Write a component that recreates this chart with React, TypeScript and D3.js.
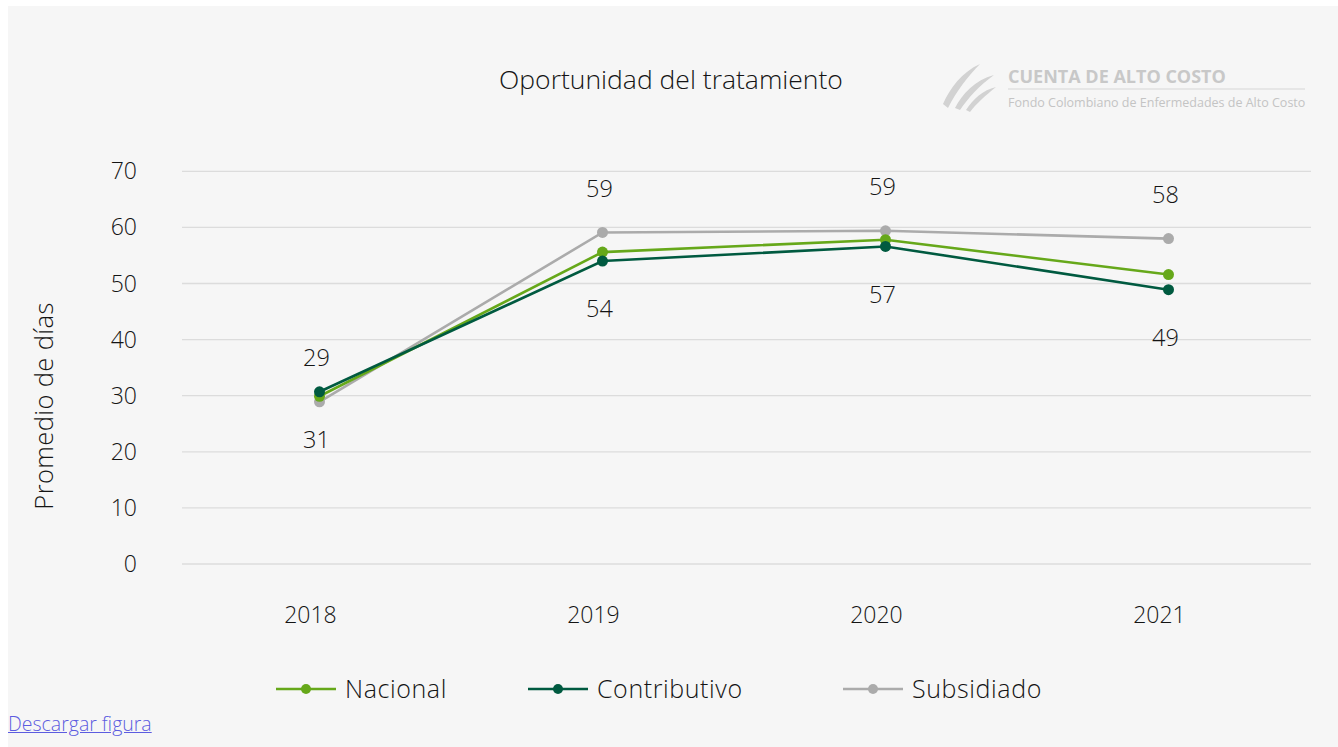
import React from "react";
import * as d3 from "d3";

const years = ["2018", "2019", "2020", "2021"];
const nacional = [29.9, 55.6, 57.8, 51.6];
const contributivo = [30.7, 54.0, 56.6, 48.9];
const subsidiado = [28.9, 59.1, 59.4, 58.0];
const yTicks = [0, 10, 20, 30, 40, 50, 60, 70];

const seriesList = [
  { name: "Nacional", values: nacional, color: "#66a81a", label: null as null | "above" | "below" },
  { name: "Contributivo", values: contributivo, color: "#005a40", label: "below" as const },
  { name: "Subsidiado", values: subsidiado, color: "#ababab", label: "above" as const },
];
const drawOrder = [2, 0, 1];

const W = 1330;
const H = 741;
const FONT = "'Open Sans', Lato, sans-serif";
const FW = 300;
const INK = "#141414";

export default function App() {
  const ox = 8, oy = 6;
  const x = d3.scaleBand<string>().domain(years).range([178 - ox, 1310 - ox]);
  const y = d3.scaleLinear().domain([0, 70]).range([564 - oy, 171.3 - oy]);
  const cx = (d: string) => (x(d) as number) + x.bandwidth() / 2;
  const line = d3
    .line<number>()
    .x((_, i) => cx(years[i]))
    .y((v) => y(v));

  const legendItems = [
    { s: seriesList[0], lx: 276 - ox },
    { s: seriesList[1], lx: 528 - ox },
    { s: seriesList[2], lx: 843 - ox },
  ];

  return (
    <div
      style={{
        position: "absolute",
        left: ox,
        top: oy,
        width: W,
        height: H,
        background: "#f6f6f6",
      }}
    >
      <svg width={W} height={H} style={{ display: "block", fontFamily: FONT, fontWeight: FW }}>
        <text x={671 - ox} y={89 - oy} textAnchor="middle" fontSize={26.5} fill={INK}>
          Oportunidad del tratamiento
        </text>

        <g fill="#d2d2d2">
          <path d={`M${943 - ox},${104 - oy} C${950 - ox},${88 - oy} ${962 - ox},${72 - oy} ${980 - ox},${64 - oy} C${968 - ox},${76 - oy} ${956 - ox},${92 - oy} ${948 - ox},${108 - oy} Z`} />
          <path d={`M${955 - ox},${108 - oy} C${962 - ox},${94 - oy} ${975 - ox},${80 - oy} ${994 - ox},${75 - oy} C${980 - ox},${85 - oy} ${968 - ox},${98 - oy} ${960 - ox},${110 - oy} Z`} />
          <path d={`M${966 - ox},${110 - oy} C${973 - ox},${99 - oy} ${983 - ox},${90 - oy} ${996 - ox},${87 - oy} C${986 - ox},${95 - oy} ${976 - ox},${104 - oy} ${970 - ox},${112 - oy} Z`} />
        </g>
        <text x={1008 - ox} y={83 - oy} fontSize={18} fontWeight="bold" fill="#c8c8c8" fontFamily="'Open Sans', sans-serif">
          CUENTA DE ALTO COSTO
        </text>
        <line x1={1008 - ox} x2={1305 - ox} y1={89 - oy} y2={89 - oy} stroke="#d6d6d6" strokeWidth={1.2} />
        <text x={1008 - ox} y={107 - oy} fontSize={12.5} fontWeight={400} fill="#c4c4c4" fontFamily="'Open Sans', sans-serif">
          Fondo Colombiano de Enfermedades de Alto Costo
        </text>

        {yTicks.map((t) => (
          <g key={t}>
            <line x1={182 - ox} x2={1311 - ox} y1={y(t)} y2={y(t)} stroke="#dcdcdc" strokeWidth={1.3} />
            <text x={137 - ox} y={y(t)} dy="0.35em" textAnchor="end" fontSize={23} fill={INK}>
              {t}
            </text>
          </g>
        ))}

        {years.map((yr) => (
          <text key={yr} x={cx(yr) - 9} y={623 - oy} textAnchor="middle" fontSize={23} fill={INK}>
            {yr}
          </text>
        ))}

        <text
          transform={`translate(${53 - ox},${406 - oy}) rotate(-90)`}
          textAnchor="middle"
          fontSize={25.5}
          letterSpacing={0.4}
          fill={INK}
        >
          Promedio de días
        </text>

        {drawOrder.map((k) => {
          const s = seriesList[k];
          return (
            <g key={s.name}>
              <path d={line(s.values) || ""} fill="none" stroke={s.color} strokeWidth={2.6} />
              {s.values.map((v, i) => (
                <circle key={i} cx={cx(years[i])} cy={y(v)} r={5.5} fill={s.color} />
              ))}
            </g>
          );
        })}

        {seriesList.map((s) =>
          s.label
            ? s.values.map((v, i) => (
                <text
                  key={s.name + i}
                  x={cx(years[i]) - 3}
                  y={y(v) + (s.label === "above" ? -44 : 48)}
                  dy="0.35em"
                  textAnchor="middle"
                  fontSize={23.5}
                  fill={INK}
                >
                  {Math.round(v)}
                </text>
              ))
            : null
        )}

        {legendItems.map(({ s, lx }) => (
          <g key={s.name}>
            <line x1={lx} x2={lx + 60} y1={689 - oy} y2={689 - oy} stroke={s.color} strokeWidth={2.6} />
            <circle cx={lx + 30} cy={689 - oy} r={5} fill={s.color} />
            <text x={lx + 69} y={689 - oy} dy="0.35em" fontSize={25} fill={INK} letterSpacing={0.6}>
              {s.name}
            </text>
          </g>
        ))}
      </svg>
      <a
        href="#"
        style={{
          position: "absolute",
          left: 0,
          top: 704,
          fontFamily: FONT,
          fontWeight: FW,
          fontSize: 19.5,
          color: "#5c5ce0",
        }}
      >
        Descargar figura
      </a>
    </div>
  );
}
